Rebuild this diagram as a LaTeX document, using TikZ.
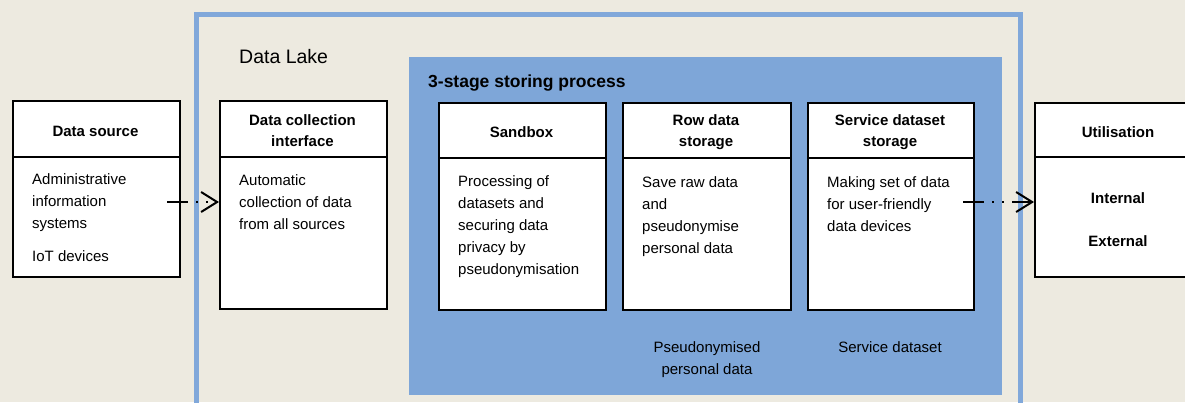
\documentclass[tikz,border=0pt]{standalone}
\usepackage{fontspec}
\setmainfont{Liberation Sans}
\usetikzlibrary{arrows.meta}
\definecolor{bg}{RGB}{237,234,224}
\definecolor{lakeblue}{RGB}{129,168,218}
\definecolor{procblue}{RGB}{126,166,216}
\newcommand{\topstrut}{\rule{0pt}{12pt}}
\tikzset{
  box/.style={draw=black, fill=white, line width=2pt, rectangle, inner sep=0pt, anchor=north west},
  divider/.style={draw=black, line width=2pt},
  headtxt/.style={inner sep=0pt, anchor=north, align=center, font=\bfseries\fontsize{15}{21}\selectfont},
  bodytxt/.style={inner sep=0pt, anchor=north west, align=left, font=\fontsize{15}{22}\selectfont},
  plaintxt/.style={inner sep=0pt, anchor=north, align=center, font=\fontsize{15}{22}\selectfont},
  flow/.style={line width=2pt, dash pattern=on 21pt off 8pt on 2pt off 8pt on 2pt off 8pt,
    -{Straight Barb[length=16pt,width=20pt]}},
}
\begin{document}
\begin{tikzpicture}[x=1pt,y=-1pt]
\clip (0,0) rectangle (1185,402);
\fill[bg] (0,0) rectangle (1185,402);
% Data Lake frame
\draw[lakeblue, line width=5pt] (196,14.5) rectangle (1020,430);
\node[inner sep=0pt, anchor=base west, font=\fontsize{19.5}{23}\selectfont] (lakelbl) at (239,63) {Data Lake};
% 3-stage process area
\fill[procblue] (409,57) rectangle (1002,395);
\node[inner sep=0pt, anchor=base west, font=\bfseries\fontsize{17.5}{21}\selectfont] (proclbl) at (428,87) {3-stage storing process};

% Data source
\node[box, minimum width=167pt, minimum height=176pt] (src) at (12,100) {};
\draw[divider] (src.west |- 0,157) -- (src.east |- 0,157);
\node[headtxt] (srch) at (95.5,136-12) {\topstrut Data source};
\node[bodytxt] (srcb) at (32,184-12) {\topstrut Administrative\\information\\systems\\[11pt]IoT devices};

% Data collection interface
\node[box, minimum width=167pt, minimum height=208pt] (dci) at (219,100) {};
\draw[divider] (dci.west |- 0,157) -- (dci.east |- 0,157);
\node[headtxt] (dcih) at (302.5,125-12) {\topstrut Data collection\\interface};
\node[bodytxt] (dcib) at (239,185-12) {\topstrut Automatic\\collection of data\\from all sources};

% Sandbox
\node[box, minimum width=167pt, minimum height=207pt] (sbx) at (438,102) {};
\draw[divider] (sbx.west |- 0,158) -- (sbx.east |- 0,158);
\node[headtxt] (sbxh) at (521.5,137-12) {\topstrut Sandbox};
\node[bodytxt] (sbxb) at (458,186-12) {\topstrut Processing of\\datasets and\\securing data\\privacy by\\pseudonymisation};

% Row data storage
\node[box, minimum width=168pt, minimum height=207pt] (row) at (622,102) {};
\draw[divider] (row.west |- 0,158) -- (row.east |- 0,158);
\node[headtxt] (rowh) at (706,125-12) {\topstrut Row data\\storage};
\node[bodytxt] (rowb) at (642,187-12) {\topstrut Save raw data\\and\\pseudonymise\\personal data};

% Service dataset storage
\node[box, minimum width=166pt, minimum height=207pt] (svc) at (807,102) {};
\draw[divider] (svc.west |- 0,158) -- (svc.east |- 0,158);
\node[headtxt] (svch) at (890,125-12) {\topstrut Service dataset\\storage};
\node[bodytxt] (svcb) at (827,187-12) {\topstrut Making set of data\\for user-friendly\\data devices};

% Utilisation
\node[box, minimum width=168pt, minimum height=174pt] (use) at (1034,102) {};
\draw[divider] (use.west |- 0,157) -- (use.east |- 0,157);
\node[headtxt] (useh) at (1118,137-12) {\topstrut Utilisation};
\node[headtxt] (usei) at (1118,203-12) {\topstrut Internal};
\node[headtxt] (usee) at (1118,246-12) {\topstrut External};

% Lower labels
\node[plaintxt] (pseudo) at (707,352-12) {\topstrut Pseudonymised\\personal data};
\node[plaintxt] (svcds) at (890,352-12) {\topstrut Service dataset};

% Connectors
\coordinate (a1) at (167,202);
\coordinate (a2) at (963,202);
\draw[flow] (a1) -- (a1 -| dci.west);
\draw[flow] (a2) -- (a2 -| use.west);
\end{tikzpicture}
\end{document}
